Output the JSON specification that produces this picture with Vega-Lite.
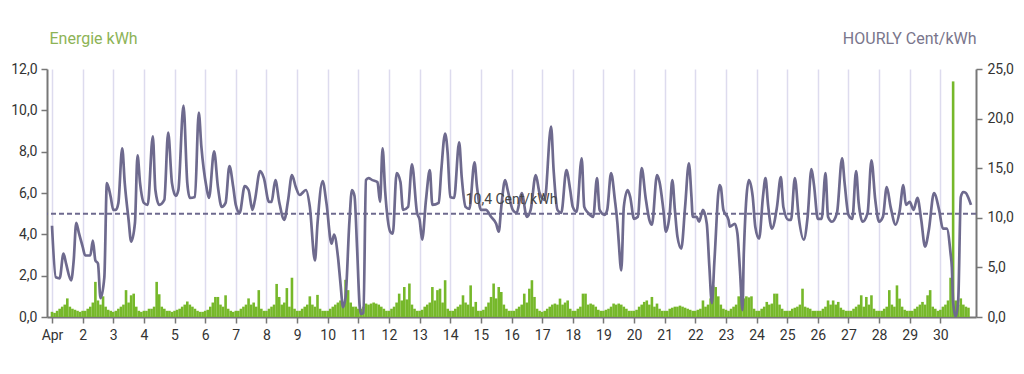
{
  "$schema": "https://vega.github.io/schema/vega-lite/v6.json",
  "width": 929,
  "height": 248,
  "autosize": "none",
  "padding": {"left": 47, "top": 69, "right": 48, "bottom": 57},
  "background": "white",
  "config": {
    "font": "Roboto",
    "view": {"stroke": null},
    "axis": {
      "labelFont": "Roboto",
      "labelFontSize": 14,
      "labelColor": "#333333",
      "titleFont": "Roboto",
      "domainColor": "#777777",
      "domainWidth": 2,
      "tickColor": "#777777",
      "tickWidth": 1.5,
      "tickSize": 6
    }
  },
  "datasets": {
    "energy": [
      {"h":0,"e":0.25},{"h":2,"e":0.2},{"h":4,"e":0.3},{"h":6,"e":0.4},{"h":8,"e":0.5},{"h":10,"e":0.6},{"h":12,"e":0.9},{"h":14,"e":0.5},{"h":16,"e":0.4},{"h":18,"e":0.35},{"h":20,"e":0.3},
      {"h":22,"e":0.25},{"h":24,"e":0.3},{"h":26,"e":0.3},{"h":28,"e":0.4},{"h":30,"e":0.5},{"h":32,"e":0.7},{"h":34,"e":1.7},{"h":36,"e":0.8},{"h":38,"e":0.6},{"h":40,"e":1.0},{"h":42,"e":0.5},{"h":44,"e":0.35},
      {"h":46,"e":0.3},{"h":48,"e":0.25},{"h":50,"e":0.3},{"h":52,"e":0.4},{"h":54,"e":0.5},{"h":56,"e":0.6},{"h":58,"e":1.3},{"h":60,"e":0.7},{"h":62,"e":1.05},{"h":64,"e":1.13},{"h":66,"e":0.5},{"h":68,"e":0.3},
      {"h":70,"e":0.25},{"h":72,"e":0.3},{"h":74,"e":0.3},{"h":76,"e":0.4},{"h":78,"e":0.4},{"h":80,"e":0.5},{"h":82,"e":1.7},{"h":84,"e":1.1},{"h":86,"e":0.5},{"h":88,"e":0.4},{"h":90,"e":0.3},{"h":92,"e":0.3},
      {"h":94,"e":0.25},{"h":96,"e":0.3},{"h":98,"e":0.35},{"h":100,"e":0.4},{"h":102,"e":0.5},{"h":104,"e":0.6},{"h":106,"e":0.75},{"h":108,"e":0.6},{"h":110,"e":0.5},{"h":112,"e":0.4},{"h":114,"e":0.3},{"h":116,"e":0.25},
      {"h":118,"e":0.25},{"h":120,"e":0.3},{"h":122,"e":0.35},{"h":124,"e":0.5},{"h":126,"e":0.7},{"h":128,"e":0.97},{"h":130,"e":0.97},{"h":132,"e":0.6},{"h":134,"e":0.5},{"h":136,"e":1.05},{"h":138,"e":0.4},{"h":140,"e":0.3},
      {"h":142,"e":0.25},{"h":144,"e":0.3},{"h":146,"e":0.3},{"h":148,"e":0.4},{"h":150,"e":0.5},{"h":152,"e":0.6},{"h":154,"e":0.9},{"h":156,"e":0.6},{"h":158,"e":0.7},{"h":160,"e":0.5},{"h":162,"e":1.3},{"h":164,"e":0.4},
      {"h":166,"e":0.3},{"h":168,"e":0.3},{"h":170,"e":0.4},{"h":172,"e":0.5},{"h":174,"e":0.6},{"h":176,"e":1.6},{"h":178,"e":0.97},{"h":180,"e":0.6},{"h":182,"e":0.7},{"h":184,"e":1.4},{"h":186,"e":0.5},{"h":188,"e":1.9},
      {"h":190,"e":0.4},{"h":192,"e":0.3},{"h":194,"e":0.3},{"h":196,"e":0.4},{"h":198,"e":0.5},{"h":200,"e":0.6},{"h":202,"e":1.0},{"h":204,"e":0.6},{"h":206,"e":0.5},{"h":208,"e":1.07},{"h":210,"e":0.4},{"h":212,"e":0.3},
      {"h":214,"e":0.3},{"h":216,"e":0.3},{"h":218,"e":0.4},{"h":220,"e":0.5},{"h":222,"e":0.6},{"h":224,"e":0.7},{"h":226,"e":0.8},{"h":228,"e":0.6},{"h":230,"e":1.8},{"h":232,"e":1.3},{"h":234,"e":0.7},{"h":236,"e":0.5},
      {"h":238,"e":0.5},{"h":240,"e":0.4},{"h":242,"e":0.4},{"h":244,"e":0.5},{"h":246,"e":0.65},{"h":248,"e":0.6},{"h":250,"e":0.65},{"h":252,"e":0.7},{"h":254,"e":0.65},{"h":256,"e":0.6},{"h":258,"e":0.5},{"h":260,"e":0.4},
      {"h":262,"e":0.3},{"h":264,"e":0.3},{"h":266,"e":0.4},{"h":268,"e":0.5},{"h":270,"e":0.7},{"h":272,"e":1.13},{"h":274,"e":0.8},{"h":276,"e":1.45},{"h":278,"e":0.85},{"h":280,"e":1.62},{"h":282,"e":0.6},{"h":284,"e":0.4},
      {"h":286,"e":0.3},{"h":288,"e":0.3},{"h":290,"e":0.35},{"h":292,"e":0.5},{"h":294,"e":0.6},{"h":296,"e":0.7},{"h":298,"e":1.45},{"h":300,"e":0.8},{"h":302,"e":1.3},{"h":304,"e":1.37},{"h":306,"e":0.7},{"h":308,"e":1.78},
      {"h":310,"e":0.4},{"h":312,"e":0.3},{"h":314,"e":0.3},{"h":316,"e":0.4},{"h":318,"e":0.5},{"h":320,"e":0.6},{"h":322,"e":1.05},{"h":324,"e":0.7},{"h":326,"e":0.6},{"h":328,"e":1.53},{"h":330,"e":0.5},{"h":332,"e":0.73},
      {"h":334,"e":0.3},{"h":336,"e":0.3},{"h":338,"e":0.35},{"h":340,"e":0.5},{"h":342,"e":0.7},{"h":344,"e":0.97},{"h":346,"e":1.62},{"h":348,"e":0.9},{"h":350,"e":1.45},{"h":352,"e":1.21},{"h":354,"e":0.6},{"h":356,"e":0.4},
      {"h":358,"e":0.3},{"h":360,"e":0.3},{"h":362,"e":0.3},{"h":364,"e":0.4},{"h":366,"e":0.5},{"h":368,"e":0.6},{"h":370,"e":1.13},{"h":372,"e":0.7},{"h":374,"e":1.37},{"h":376,"e":1.78},{"h":378,"e":0.97},{"h":380,"e":0.4},
      {"h":382,"e":0.3},{"h":384,"e":0.25},{"h":386,"e":0.3},{"h":388,"e":0.4},{"h":390,"e":0.5},{"h":392,"e":0.6},{"h":394,"e":0.65},{"h":396,"e":0.6},{"h":398,"e":0.89},{"h":400,"e":0.6},{"h":402,"e":0.7},{"h":404,"e":0.8},
      {"h":406,"e":0.4},{"h":408,"e":0.3},{"h":410,"e":0.3},{"h":412,"e":0.4},{"h":414,"e":0.5},{"h":416,"e":1.13},{"h":418,"e":1.13},{"h":420,"e":0.6},{"h":422,"e":0.65},{"h":424,"e":0.6},{"h":426,"e":0.5},{"h":428,"e":0.35},
      {"h":430,"e":0.3},{"h":432,"e":0.3},{"h":434,"e":0.35},{"h":436,"e":0.4},{"h":438,"e":0.5},{"h":440,"e":0.65},{"h":442,"e":0.6},{"h":444,"e":0.65},{"h":446,"e":0.6},{"h":448,"e":0.5},{"h":450,"e":0.4},{"h":452,"e":0.3},
      {"h":454,"e":0.3},{"h":456,"e":0.3},{"h":458,"e":0.35},{"h":460,"e":0.5},{"h":462,"e":0.6},{"h":464,"e":0.73},{"h":466,"e":0.8},{"h":468,"e":0.6},{"h":470,"e":0.97},{"h":472,"e":0.5},{"h":474,"e":0.65},{"h":476,"e":0.4},
      {"h":478,"e":0.3},{"h":480,"e":0.3},{"h":482,"e":0.3},{"h":484,"e":0.4},{"h":486,"e":0.45},{"h":488,"e":0.5},{"h":490,"e":0.5},{"h":492,"e":0.55},{"h":494,"e":0.5},{"h":496,"e":0.45},{"h":498,"e":0.4},{"h":500,"e":0.35},
      {"h":502,"e":0.3},{"h":504,"e":0.3},{"h":506,"e":0.35},{"h":508,"e":0.4},{"h":510,"e":0.8},{"h":512,"e":0.5},{"h":514,"e":0.6},{"h":516,"e":0.9},{"h":518,"e":1.53},{"h":520,"e":1.45},{"h":522,"e":1.0},{"h":524,"e":0.6},
      {"h":526,"e":0.4},{"h":528,"e":0.35},{"h":530,"e":0.3},{"h":532,"e":0.4},{"h":534,"e":0.5},{"h":536,"e":0.6},{"h":538,"e":1.0},{"h":540,"e":1.3},{"h":542,"e":0.9},{"h":544,"e":1.0},{"h":546,"e":0.95},{"h":548,"e":1.0},
      {"h":550,"e":0.4},{"h":552,"e":0.3},{"h":554,"e":0.3},{"h":556,"e":0.4},{"h":558,"e":0.5},{"h":560,"e":0.73},{"h":562,"e":0.6},{"h":564,"e":0.65},{"h":566,"e":1.13},{"h":568,"e":1.13},{"h":570,"e":0.6},{"h":572,"e":0.4},
      {"h":574,"e":0.3},{"h":576,"e":0.3},{"h":578,"e":0.3},{"h":580,"e":0.4},{"h":582,"e":0.45},{"h":584,"e":0.5},{"h":586,"e":0.6},{"h":588,"e":1.37},{"h":590,"e":0.5},{"h":592,"e":0.45},{"h":594,"e":0.4},{"h":596,"e":0.3},
      {"h":598,"e":0.3},{"h":600,"e":0.3},{"h":602,"e":0.3},{"h":604,"e":0.4},{"h":606,"e":0.5},{"h":608,"e":0.8},{"h":610,"e":0.6},{"h":612,"e":0.8},{"h":614,"e":0.6},{"h":616,"e":0.73},{"h":618,"e":0.45},{"h":620,"e":0.35},
      {"h":622,"e":0.3},{"h":624,"e":0.3},{"h":626,"e":0.3},{"h":628,"e":0.4},{"h":630,"e":0.5},{"h":632,"e":0.6},{"h":634,"e":1.05},{"h":636,"e":0.5},{"h":638,"e":0.97},{"h":640,"e":0.6},{"h":642,"e":1.05},{"h":644,"e":0.4},
      {"h":646,"e":0.3},{"h":648,"e":0.3},{"h":650,"e":0.3},{"h":652,"e":0.4},{"h":654,"e":0.5},{"h":656,"e":1.3},{"h":658,"e":0.6},{"h":660,"e":0.5},{"h":662,"e":1.53},{"h":664,"e":0.89},{"h":666,"e":0.5},{"h":668,"e":0.35},
      {"h":670,"e":0.3},{"h":672,"e":0.3},{"h":674,"e":0.3},{"h":676,"e":0.4},{"h":678,"e":0.5},{"h":680,"e":0.6},{"h":682,"e":0.73},{"h":684,"e":0.6},{"h":686,"e":1.05},{"h":688,"e":1.3},{"h":690,"e":0.5},{"h":692,"e":0.4},
      {"h":694,"e":0.3},{"h":696,"e":0.35},{"h":698,"e":0.5},{"h":700,"e":0.6},{"h":702,"e":0.8},{"h":704,"e":1.9},{"h":706,"e":11.4},{"h":708,"e":0.8},{"h":710,"e":0.6},{"h":712,"e":0.9},{"h":714,"e":0.6},{"h":716,"e":0.5},
      {"h":718,"e":0.45}
    ],
    "price": [
      {"h":0,"p":9.2},{"h":3,"p":4.0},{"h":6,"p":3.9},{"h":9,"p":6.4},{"h":11,"p":5.4},{"h":15,"p":3.7},{"h":17,"p":5.7},{"h":19,"p":9.5},{"h":21,"p":8.5},{"h":24,"p":7.1},{"h":26,"p":6.2},{"h":30,"p":6.2},{"h":32,"p":7.7},{"h":34,"p":5.7},{"h":36,"p":5.4},{"h":38,"p":1.9},{"h":41,"p":4.0},{"h":43,"p":13.5},{"h":46,"p":12.1},{"h":48,"p":10.8},{"h":50,"p":10.8},{"h":52,"p":11.5},{"h":55,"p":17.0},{"h":57,"p":13.5},{"h":60,"p":9.8},{"h":62,"p":7.6},{"h":65,"p":9.5},{"h":67,"p":16.3},{"h":69,"p":13.5},{"h":72,"p":11.5},{"h":75,"p":11.3},{"h":79,"p":18.2},{"h":81,"p":12.8},{"h":84,"p":11.3},{"h":88,"p":11.8},{"h":91,"p":18.6},{"h":94,"p":13.5},{"h":97,"p":12.2},{"h":99,"p":12.8},{"h":103,"p":21.3},{"h":106,"p":13.5},{"h":108,"p":12.0},{"h":112,"p":12.1},{"h":115,"p":20.6},{"h":117,"p":17.2},{"h":121,"p":13.1},{"h":123,"p":12.0},{"h":127,"p":16.7},{"h":130,"p":13.1},{"h":133,"p":11.1},{"h":136,"p":11.5},{"h":139,"p":15.2},{"h":142,"p":13.1},{"h":144,"p":11.3},{"h":147,"p":10.5},{"h":151,"p":13.2},{"h":154,"p":12.8},{"h":157,"p":10.8},{"h":159,"p":11.8},{"h":163,"p":14.7},{"h":166,"p":14.0},{"h":170,"p":11.6},{"h":172,"p":11.6},{"h":175,"p":13.8},{"h":178,"p":11.6},{"h":182,"p":9.8},{"h":185,"p":11.8},{"h":188,"p":14.3},{"h":191,"p":13.1},{"h":194,"p":12.3},{"h":199,"p":12.8},{"h":202,"p":11.1},{"h":206,"p":5.7},{"h":208,"p":9.4},{"h":212,"p":13.7},{"h":215,"p":11.5},{"h":219,"p":7.4},{"h":221,"p":8.3},{"h":224,"p":6.1},{"h":226,"p":3.4},{"h":228,"p":1.0},{"h":230,"p":2.0},{"h":233,"p":9.6},{"h":235,"p":12.8},{"h":237,"p":12.2},{"h":239,"p":7.0},{"h":241,"p":1.2},{"h":242,"p":0.3},{"h":244,"p":0.4},{"h":246,"p":13.8},{"h":248,"p":14.0},{"h":251,"p":13.8},{"h":255,"p":13.6},{"h":257,"p":11.6},{"h":259,"p":17.0},{"h":261,"p":12.7},{"h":265,"p":8.6},{"h":267,"p":8.4},{"h":270,"p":14.5},{"h":273,"p":13.6},{"h":275,"p":10.8},{"h":279,"p":11.1},{"h":282,"p":15.4},{"h":286,"p":10.5},{"h":288,"p":9.8},{"h":290,"p":7.8},{"h":293,"p":11.8},{"h":296,"p":14.8},{"h":298,"p":11.3},{"h":303,"p":11.5},{"h":305,"p":14.8},{"h":308,"p":18.5},{"h":310,"p":16.5},{"h":312,"p":12.1},{"h":315,"p":12.0},{"h":319,"p":17.6},{"h":321,"p":14.1},{"h":324,"p":11.1},{"h":327,"p":10.9},{"h":331,"p":15.6},{"h":333,"p":13.1},{"h":336,"p":10.8},{"h":340,"p":10.8},{"h":344,"p":10.1},{"h":348,"p":9.4},{"h":350,"p":8.6},{"h":352,"p":11.1},{"h":355,"p":13.8},{"h":357,"p":12.8},{"h":361,"p":10.8},{"h":364,"p":10.5},{"h":368,"p":12.5},{"h":372,"p":10.1},{"h":375,"p":10.8},{"h":379,"p":14.3},{"h":382,"p":12.5},{"h":386,"p":11.8},{"h":391,"p":19.2},{"h":393,"p":14.8},{"h":396,"p":10.8},{"h":399,"p":10.5},{"h":403,"p":14.8},{"h":406,"p":12.8},{"h":408,"p":11.1},{"h":411,"p":10.6},{"h":415,"p":16.0},{"h":417,"p":11.1},{"h":420,"p":10.5},{"h":424,"p":10.1},{"h":427,"p":14.0},{"h":429,"p":10.8},{"h":433,"p":10.3},{"h":435,"p":10.8},{"h":438,"p":14.5},{"h":441,"p":11.8},{"h":443,"p":9.4},{"h":444,"p":7.6},{"h":446,"p":4.7},{"h":448,"p":11.1},{"h":451,"p":12.8},{"h":453,"p":12.1},{"h":456,"p":9.9},{"h":459,"p":10.1},{"h":462,"p":15.0},{"h":465,"p":12.1},{"h":468,"p":9.8},{"h":470,"p":9.3},{"h":474,"p":14.3},{"h":476,"p":13.6},{"h":479,"p":10.8},{"h":481,"p":8.6},{"h":484,"p":10.5},{"h":486,"p":13.8},{"h":488,"p":10.8},{"h":490,"p":8.1},{"h":493,"p":6.9},{"h":496,"p":11.1},{"h":499,"p":15.5},{"h":501,"p":12.1},{"h":502,"p":10.1},{"h":505,"p":10.1},{"h":507,"p":9.6},{"h":510,"p":10.8},{"h":513,"p":9.4},{"h":515,"p":5.1},{"h":517,"p":1.4},{"h":519,"p":5.7},{"h":523,"p":13.3},{"h":524,"p":13.1},{"h":526,"p":10.8},{"h":530,"p":9.8},{"h":531,"p":9.1},{"h":535,"p":9.4},{"h":537,"p":8.4},{"h":539,"p":4.7},{"h":541,"p":0.7},{"h":542,"p":6.4},{"h":546,"p":13.8},{"h":549,"p":12.1},{"h":551,"p":9.1},{"h":554,"p":7.9},{"h":557,"p":12.1},{"h":559,"p":14.0},{"h":561,"p":11.3},{"h":564,"p":8.9},{"h":568,"p":11.1},{"h":571,"p":14.1},{"h":573,"p":11.1},{"h":577,"p":9.8},{"h":579,"p":9.8},{"h":582,"p":14.0},{"h":585,"p":10.1},{"h":589,"p":7.8},{"h":592,"p":10.1},{"h":595,"p":14.9},{"h":597,"p":13.3},{"h":600,"p":9.9},{"h":603,"p":9.9},{"h":606,"p":14.5},{"h":608,"p":10.1},{"h":611,"p":9.6},{"h":615,"p":10.5},{"h":619,"p":16.0},{"h":621,"p":13.5},{"h":624,"p":10.3},{"h":627,"p":9.9},{"h":630,"p":14.7},{"h":632,"p":11.5},{"h":635,"p":9.6},{"h":639,"p":10.5},{"h":642,"p":15.8},{"h":645,"p":11.8},{"h":648,"p":9.6},{"h":651,"p":10.1},{"h":654,"p":13.1},{"h":657,"p":11.1},{"h":661,"p":9.3},{"h":664,"p":10.6},{"h":667,"p":13.3},{"h":669,"p":11.3},{"h":672,"p":11.6},{"h":675,"p":10.8},{"h":678,"p":12.0},{"h":681,"p":9.8},{"h":684,"p":7.1},{"h":687,"p":8.8},{"h":691,"p":12.5},{"h":695,"p":10.8},{"h":698,"p":8.9},{"h":701,"p":8.9},{"h":704,"p":6.4},{"h":705,"p":5.0},{"h":706,"p":1.5},{"h":708,"p":0.0},{"h":710,"p":1.7},{"h":712,"p":12.1},{"h":714,"p":12.6},{"h":716,"p":12.5},{"h":718,"p":12.0},{"h":720,"p":11.3}
    ],
    "average": [
      {"h":360,"avg":10.4,"label":"10,4 Cent/kWh"}
    ]
  },
  "layer": [
    {
      "data": {"name": "energy"},
      "mark": {"type": "bar", "color": "#76b82a", "size": 2.6, "clip": true},
      "encoding": {
        "x": {
          "field": "h", "type": "quantitative",
          "scale": {"domain": [0, 720], "nice": false, "zero": false},
          "axis": {
            "values": [0,24,48,72,96,120,144,168,192,216,240,264,288,312,336,360,384,408,432,456,480,504,528,552,576,600,624,648,672,696],
            "labelExpr": "datum.value == 0 ? 'Apr' : format(datum.value / 24 + 1, 'd')",
            "title": null, "grid": true, "gridColor": "#dddbee", "gridWidth": 1.5,
            "labelPadding": 5, "labelFlush": false, "labelOverlap": false
          }
        },
        "y": {
          "field": "e", "type": "quantitative",
          "scale": {"domain": [0, 12], "nice": false},
          "axis": {
            "orient": "left",
            "values": [0,2,4,6,8,10,12],
            "labelExpr": "replace(format(datum.value, '.1f'), '.', ',')",
            "title": "Energie kWh",
            "titleAngle": 0,
            "titleAlign": "left",
            "titleBaseline": "middle",
            "titleX": 2,
            "titleY": -31,
            "titleColor": "#8db356",
            "titleFontSize": 16,
            "titleFontWeight": "normal",
            "grid": false,
            "labelPadding": 4
          }
        }
      }
    },
    {
      "layer": [
        {
          "data": {"name": "price"},
          "mark": {"type": "line", "color": "#6e6a8e", "strokeWidth": 2.7, "interpolate": "monotone", "clip": true},
          "encoding": {
            "x": {
              "field": "h", "type": "quantitative",
              "scale": {"domain": [0, 720], "nice": false, "zero": false},
              "axis": {
                "values": [0,24,48,72,96,120,144,168,192,216,240,264,288,312,336,360,384,408,432,456,480,504,528,552,576,600,624,648,672,696],
                "labelExpr": "datum.value == 0 ? 'Apr' : format(datum.value / 24 + 1, 'd')",
                "title": null, "grid": true, "gridColor": "#dddbee", "gridWidth": 1.5,
                "labelPadding": 5, "labelFlush": false, "labelOverlap": false
              }
            },
            "y": {
              "field": "p", "type": "quantitative",
              "scale": {"domain": [0, 25], "nice": false},
              "axis": {
                "orient": "right",
                "values": [0,5,10,15,20,25],
                "labelExpr": "replace(format(datum.value, '.1f'), '.', ',')",
                "title": "HOURLY Cent/kWh",
                "titleAngle": 0,
                "titleAlign": "right",
                "titleBaseline": "middle",
                "titleX": 0,
                "titleY": -31,
                "titleColor": "#7a768c",
                "titleFontSize": 16,
                "titleFontWeight": "normal",
                "grid": false,
                "labelPadding": 5
              }
            }
          }
        },
        {
          "data": {"name": "average"},
          "mark": {"type": "rule", "color": "#6e6a8e", "strokeWidth": 2, "strokeDash": [5, 3]},
          "encoding": {
            "y": {"field": "avg", "type": "quantitative", "scale": {"domain": [0, 25], "nice": false}}
          }
        },
        {
          "data": {"name": "average"},
          "mark": {"type": "text", "color": "#444444", "fontSize": 14, "baseline": "alphabetic", "align": "center", "dy": -10},
          "encoding": {
            "x": {
              "field": "h", "type": "quantitative",
              "scale": {"domain": [0, 720], "nice": false, "zero": false},
              "axis": {
                "values": [0,24,48,72,96,120,144,168,192,216,240,264,288,312,336,360,384,408,432,456,480,504,528,552,576,600,624,648,672,696],
                "labelExpr": "datum.value == 0 ? 'Apr' : format(datum.value / 24 + 1, 'd')",
                "title": null, "grid": true, "gridColor": "#dddbee", "gridWidth": 1.5,
                "labelPadding": 5, "labelFlush": false, "labelOverlap": false
              }
            },
            "y": {"field": "avg", "type": "quantitative", "scale": {"domain": [0, 25], "nice": false}},
            "text": {"field": "label"}
          }
        }
      ]
    }
  ],
  "resolve": {"scale": {"y": "independent"}}
}
